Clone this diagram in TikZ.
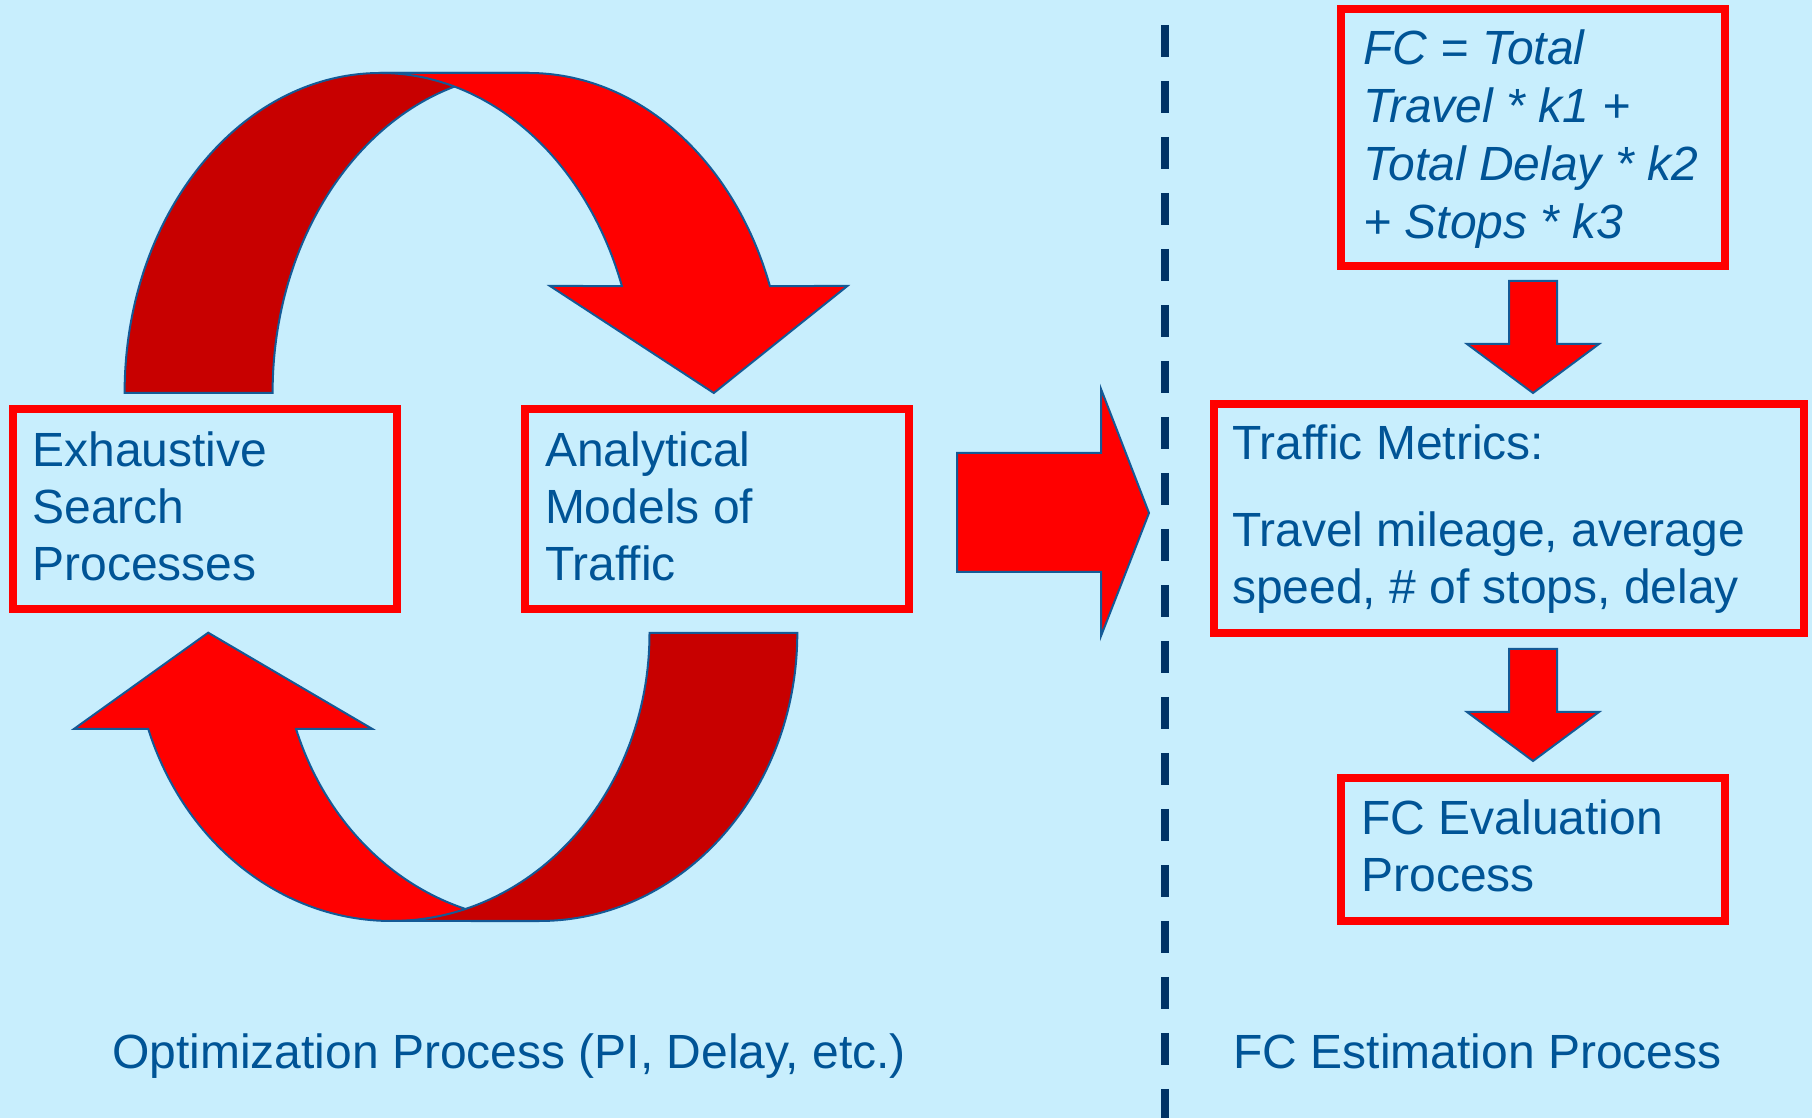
\documentclass[tikz,border=0pt]{standalone}
\usepackage{fontspec}
\setmainfont{Liberation Sans}
\definecolor{bgblue}{RGB}{200,238,253}
\definecolor{txtblue}{RGB}{0,84,150}
\definecolor{edgeblue}{RGB}{20,90,150}
\definecolor{backred}{RGB}{200,0,0}
\definecolor{frontred}{RGB}{255,0,0}
\definecolor{navyline}{RGB}{0,51,102}
\begin{document}
\begin{tikzpicture}[x=1pt,y=1pt,
  redbox/.style={draw=frontred, line width=8pt, inner sep=0pt, outer sep=0pt, rectangle},
  lbl/.style={text=txtblue, inner sep=0pt, outer sep=0pt, anchor=base west,
              font=\fontsize{48}{56.7}\selectfont},
  frontband/.style={fill=frontred, draw=edgeblue, line width=2pt, line join=miter},
  backband/.style={fill=backred, draw=edgeblue, line width=2pt, line join=miter},
  divider/.style={draw=navyline, line width=8pt, dash pattern=on 32pt off 24pt}
]
\useasboundingbox (0,0) rectangle (1812,1118);
\fill[bgblue] (0,0) rectangle (1812,1118);

% dashed divider
\coordinate (divtop) at (1165,1093);
\coordinate (divbot) at (1165,-40);
\begin{scope}
\clip (0,0) rectangle (1812,1118);
\draw[divider] (divtop) -- (divbot);
\end{scope}

% ---- top curved arrow (back band, then front band with head)
\draw[backband] (124.6,725) arc[start angle=180, end angle=90, x radius=256pt, y radius=320pt]
  -- (528.6,1045) arc[start angle=90, end angle=180, x radius=256pt, y radius=320pt] -- cycle;
\draw[frontband] (380.6,1045) -- (528.6,1045)
  arc[start angle=90, end angle=19.53, x radius=256pt, y radius=320pt]
  -- (847.4,832) -- (713.8,725) -- (550,832) -- (621.87,831.97)
  arc[start angle=19.53, end angle=90, x radius=256pt, y radius=320pt] -- cycle;

% ---- bottom curved arrow (front band with head, then back band)
\draw[frontband] (391.5,197)
  arc[start angle=270, end angle=199.47, x radius=258pt, y radius=288pt]
  -- (73.9,389) -- (208.2,485.3) -- (372.4,389) -- (296.05,389)
  arc[start angle=199.47, end angle=270, x radius=258pt, y radius=288pt] -- cycle;
\draw[backband] (797.3,485) arc[start angle=0, end angle=-90, x radius=258pt, y radius=288pt]
  -- (391.5,197) arc[start angle=-90, end angle=0, x radius=258pt, y radius=288pt] -- cycle;

% ---- boxes
\node[redbox, minimum width=384pt, minimum height=200.5pt] (exh) at (205,608.75) {};
\node[redbox, minimum width=384pt, minimum height=200.5pt] (ana) at (717,608.75) {};
\node[redbox, minimum width=384pt, minimum height=257.5pt] (fc) at (1533,980.25) {};
\node[redbox, minimum width=590.5pt, minimum height=229pt] (tm) at (1508.75,599.5) {};
\node[redbox, minimum width=384pt, minimum height=143pt] (eval) at (1533,268.5) {};

% ---- box texts
\node[lbl] (exhtext) at (32.5,651) {\parbox[t]{340pt}{\raggedright Exhaustive\\Search\\Processes}};
\node[lbl] (anatext) at (545,651) {\parbox[t]{340pt}{\raggedright Analytical\\Models of\\Traffic}};
\node[lbl, font=\fontsize{48}{57.7}\selectfont\itshape] (fctext) at (1363.5,1053)
  {\parbox[t]{360pt}{\raggedright FC = Total\\Travel * k1 +\\Total Delay * k2\\+ Stops * k3}};
\node[lbl] (tmtext) at (1232,658)
  {\parbox[t]{570pt}{\raggedright Traffic Metrics:\\[30pt]Travel mileage, average\\speed, \# of stops, delay}};
\node[lbl] (evaltext) at (1361.5,283) {\parbox[t]{360pt}{\raggedright FC Evaluation\\Process}};

% ---- bottom captions
\node[lbl] (optcap) at (112,49) {Optimization Process (PI, Delay, etc.)};
\node[lbl] (fccap) at (1233.5,49) {FC Estimation Process};

% ---- block arrows
\draw[frontband] (957,665) -- (1101,665) -- (1101,729) -- (1149,605) -- (1101,482)
  -- (1101,546) -- (957,546) -- cycle;
\draw[frontband] (1509,837) -- (1557,837) -- (1557,774) -- (1599,774) -- (1533,725)
  -- (1467,774) -- (1509,774) -- cycle;
\draw[frontband] (1509,469) -- (1557,469) -- (1557,406) -- (1599,406) -- (1533,357)
  -- (1467,406) -- (1509,406) -- cycle;
\end{tikzpicture}
\end{document}
